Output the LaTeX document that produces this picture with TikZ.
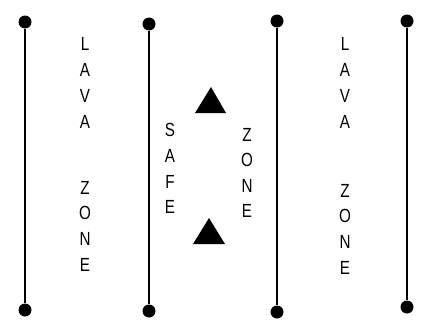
\documentclass[tikz,border=0pt]{standalone}
\usepackage{fontspec}
\setmainfont{Liberation Sans}
\begin{document}
\begin{tikzpicture}[x=1pt,y=-1pt,
  pole/.style={line width=1.8pt},
  dot/.style={circle,fill=black,inner sep=0pt,minimum size=13pt},
  letter/.style={inner sep=0pt,xscale=0.8,font=\fontsize{19}{19}\selectfont},
  tri/.style={fill=black}]
\useasboundingbox (0,0) rectangle (424,327);
% poles
\node[dot] (t1) at (25,22) {};
\node[dot] (b1) at (25,310) {};
\node[dot] (t2) at (149,24) {};
\node[dot] (b2) at (149,311) {};
\node[dot] (t3) at (277,21) {};
\node[dot] (b3) at (277,312) {};
\node[dot] (t4) at (407,21) {};
\node[dot] (b4) at (407,307) {};
\draw[pole] (t1) -- (b1);
\draw[pole] (t2) -- (b2);
\draw[pole] (t3) -- (b3);
\draw[pole] (t4) -- (b4);
% left lava zone
\foreach \c/\y [count=\i] in {L/44,A/70,V/96,A/122,Z/188,O/213,N/239,E/265}
  \node[letter] (l\i) at (85,\y) {\c};
% right lava zone
\foreach \c/\y [count=\i] in {L/44,A/70,V/96,A/122,Z/191,O/216,N/242,E/268}
  \node[letter] (r\i) at (345,\y) {\c};
% safe
\foreach \c/\y [count=\i] in {S/130,A/156,F/182,E/207}
  \node[letter] (s\i) at (170,\y) {\c};
% zone middle
\foreach \c/\y [count=\i] in {Z/135,O/160,N/186,E/211}
  \node[letter] (m\i) at (247,\y) {\c};
% triangles
\fill[tri] (195,113) -- (211,87) -- (226,113) -- cycle;
\fill[tri] (193,244) -- (209,218) -- (225,244) -- cycle;
\end{tikzpicture}
\end{document}
